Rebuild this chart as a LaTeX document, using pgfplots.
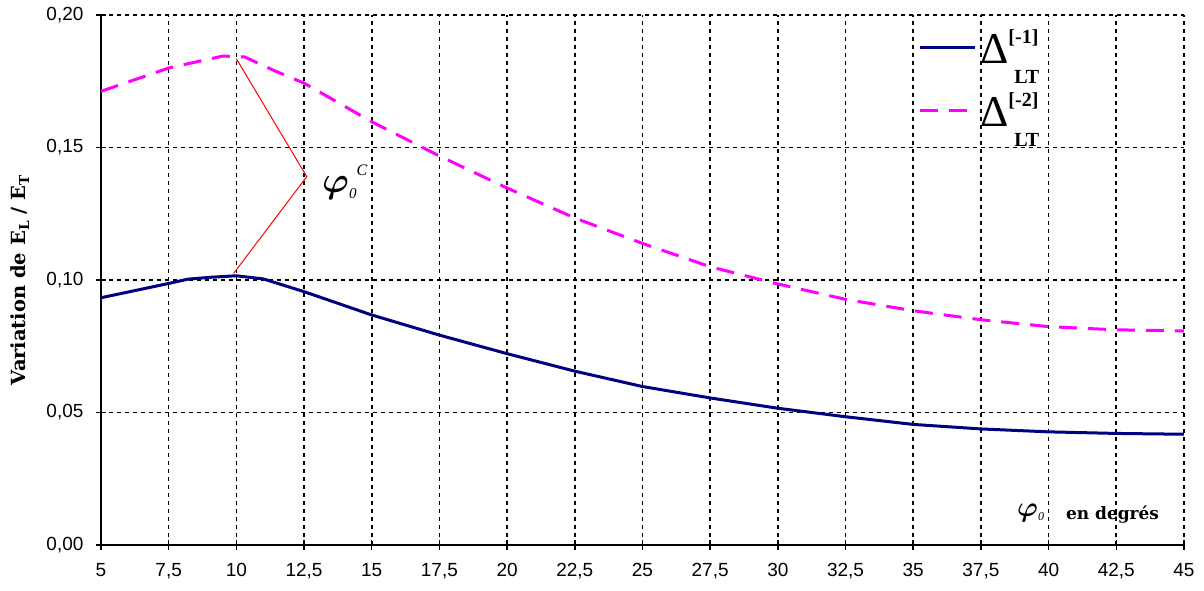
\RequirePackage{fix-cm}
\documentclass[border=0pt]{standalone}
\usepackage{pgfplots}
\pgfplotsset{compat=1.18}
\usepackage{fontspec}
\setmainfont{Liberation Serif}
\newfontfamily\tickfont{Liberation Sans}
\newfontfamily\labelfont{DejaVu Serif}
\definecolor{navyline}{RGB}{0,0,128}
\definecolor{pinkline}{RGB}{255,0,255}
\newcommand{\deltalt}[1]{{\fontsize{44}{44}\selectfont Δ}\rlap{\raisebox{20pt}{\fontsize{20}{20}\selectfont\bfseries[#1]}}\hspace{6pt}\raisebox{-20pt}{\fontsize{20}{20}\selectfont\bfseries LT}}
\begin{document}
\begin{tikzpicture}
\path[use as bounding box] (-101pt,-45pt) rectangle (1103pt,545pt);
\begin{axis}[
  at={(0pt,0pt)}, anchor=south west,
  scale only axis, width=1083pt, height=530pt,
  xmin=5, xmax=45, ymin=0, ymax=0.2,
  xtick={5,7.5,10,12.5,15,17.5,20,22.5,25,27.5,30,32.5,35,37.5,40,42.5,45},
  ytick={0,0.05,0.1,0.15,0.2},
  axis x line*=bottom, axis y line*=left,
  axis line style={black, line width=1.5pt, -},
  grid=major,
  major grid style={black, line width=1.6pt, dash pattern=on 4pt off 4pt},
  tick align=center, major tick length=10pt,
  major tick style={black, line width=1.5pt},
  xticklabel style={font=\tickfont\fontsize{19}{19}\selectfont, yshift=-10pt, /pgf/number format/use comma, /pgf/number format/fixed, /pgf/number format/precision=1, /pgf/number format/assume math mode=true},
  yticklabel style={font=\tickfont\fontsize{19}{19}\selectfont, xshift=-9pt, /pgf/number format/use comma, /pgf/number format/fixed, /pgf/number format/fixed zerofill, /pgf/number format/precision=2, /pgf/number format/assume math mode=true},
  ylabel={\bfseries Variation de E\textsubscript{L} / E\textsubscript{T}},
  ylabel style={font=\labelfont\fontsize{19.5}{19.5}\selectfont, at={(axis description cs:-0.0748,0.5)}, anchor=center},
  legend style={at={(0.7544,0.975)}, anchor=north west, draw=none, fill=none, inner sep=0pt, row sep=26pt, column sep=3pt, nodes={inner sep=1pt}},
  legend cell align=left,
  legend image code/.code={\draw[#1] (0pt,0pt) -- (55pt,0pt); \path (0pt,-12pt);},
]
\addplot[navyline, line width=3pt, line join=round] coordinates {
(5,0.0933) (7.5,0.0987) (8.2,0.1003) (9,0.1010) (10,0.1016) (11,0.1004) (12.5,0.0956)
(15,0.0868) (17.5,0.0792) (20,0.0722) (22.5,0.0656) (25,0.0598) (27.5,0.0555)
(30,0.0516) (32.5,0.0484) (35,0.0455) (37.5,0.0438) (40,0.0427) (42.5,0.0421) (45,0.0418)};
\addlegendentry{\deltalt{-1}}
\addplot[pinkline, line width=3pt, dash pattern=on 18pt off 11pt, line join=round] coordinates {
(5,0.1712) (7.5,0.1800) (9.5,0.1845) (10.3,0.1842) (11.4,0.1790) (12.5,0.1743)
(15,0.1597) (17.5,0.1468) (20,0.1347) (22.5,0.1234) (25,0.1138) (27.5,0.1050)
(30,0.0985) (32.5,0.0927) (35,0.0884) (37.5,0.0850) (40,0.0824) (42.5,0.0812) (45,0.0808)};
\addlegendentry{\deltalt{-2}}
\addplot[red, line width=1pt, forget plot] coordinates {(10,0.1835) (12.6,0.139) (9.9,0.1025)};
\node[anchor=base west, inner sep=0pt] at (axis cs:13.16,0.1332) {{\fontsize{36}{36}\selectfont\boldmath$\varphi$}\raisebox{-6pt}{\fontsize{15}{15}\selectfont\itshape 0}\raisebox{17pt}{\fontsize{16}{16}\selectfont\itshape C}};
\node[anchor=base west, inner sep=0pt] at (axis cs:38.83,0.0098) {\raisebox{3pt}{\fontsize{28}{28}\selectfont\boldmath$\varphi$}\raisebox{-1pt}{\fontsize{12}{12}\selectfont\itshape 0}\hspace{22pt}{\labelfont\bfseries\fontsize{17}{17}\selectfont en degrés}};
\end{axis}
\end{tikzpicture}
\end{document}
